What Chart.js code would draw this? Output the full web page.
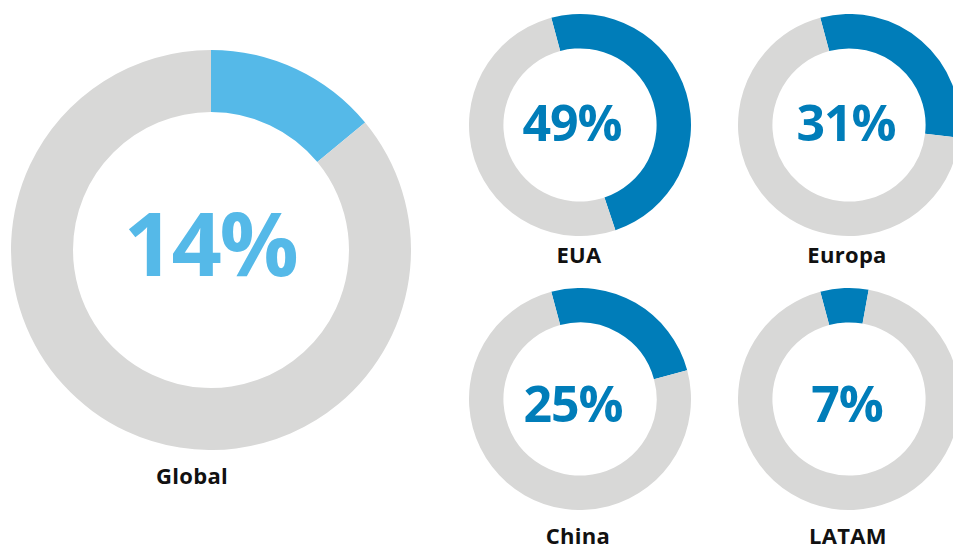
<!DOCTYPE html>
<html>
<head>
<meta charset="utf-8">
<script src="https://cdn.jsdelivr.net/npm/chart.js@4/dist/chart.umd.min.js"></script>
<style>
  html, body { margin: 0; padding: 0; background: #fff; }
  body { width: 953px; height: 546px; position: relative; overflow: hidden; font-family: "Open Sans", sans-serif; }
  canvas { position: absolute; }
  .pct, .lbl { position: absolute; width: 240px; text-align: center; line-height: 1; font-weight: 700; white-space: nowrap; }
  .lbl { color: #111; font-size: 22px; letter-spacing: 0.3px; }
</style>
</head>
<body>
<script>
// data
const regions = ['Global', 'EUA', 'Europa', 'China', 'LATAM'];
const shares = [14, 49, 31, 25, 7];

// layout per donut (center, outer radius, text positions)
const boxes = [
  {cx: 211, cy: 250, r: 200, rot: 0, color: '#55b9e8', pctSize: 88, ls: -2.5, pctX: 210, pctY: 245, lblX: 192, lblY: 476},
  {cx: 580, cy: 125, r: 111, rot: -15, color: '#007db9', pctSize: 50, ls: -1, pctX: 572, pctY: 124, lblX: 579, lblY: 254.5},
  {cx: 849, cy: 125, r: 111, rot: -15, color: '#007db9', pctSize: 50, ls: -1, pctX: 846, pctY: 124, lblX: 847, lblY: 255},
  {cx: 580, cy: 399, r: 111, rot: -15, color: '#007db9', pctSize: 50, ls: -1, pctX: 573, pctY: 405, lblX: 578, lblY: 536},
  {cx: 849, cy: 399, r: 111, rot: -15, color: '#007db9', pctSize: 50, ls: -1, pctX: 847, pctY: 405, lblX: 848, lblY: 536}
];

const grey = '#d8d8d7';

regions.forEach((name, i) => {
  const b = boxes[i];
  const cv = document.createElement('canvas');
  cv.width = b.r * 2;
  cv.height = b.r * 2;
  cv.style.left = (b.cx - b.r) + 'px';
  cv.style.top = (b.cy - b.r) + 'px';
  document.body.appendChild(cv);

  new Chart(cv, {
    type: 'doughnut',
    data: {
      labels: [name, ''],
      datasets: [{
        data: [shares[i], 100 - shares[i]],
        backgroundColor: [b.color, grey],
        borderWidth: 0
      }]
    },
    options: {
      responsive: false,
      animation: false,
      rotation: b.rot,
      cutout: '69%',
      plugins: { legend: { display: false }, tooltip: { enabled: false } }
    }
  });

  const pct = document.createElement('div');
  pct.className = 'pct';
  pct.textContent = shares[i] + '%';
  pct.style.color = b.color;
  pct.style.fontSize = b.pctSize + 'px';
  pct.style.letterSpacing = b.ls + 'px';
  pct.style.left = (b.pctX - 120) + 'px';
  pct.style.top = (b.pctY - 0.531 * b.pctSize) + 'px';
  document.body.appendChild(pct);

  const lbl = document.createElement('div');
  lbl.className = 'lbl';
  lbl.textContent = name;
  lbl.style.left = (b.lblX - 120) + 'px';
  lbl.style.top = (b.lblY - 0.531 * 22) + 'px';
  document.body.appendChild(lbl);
});
</script>
</body>
</html>
